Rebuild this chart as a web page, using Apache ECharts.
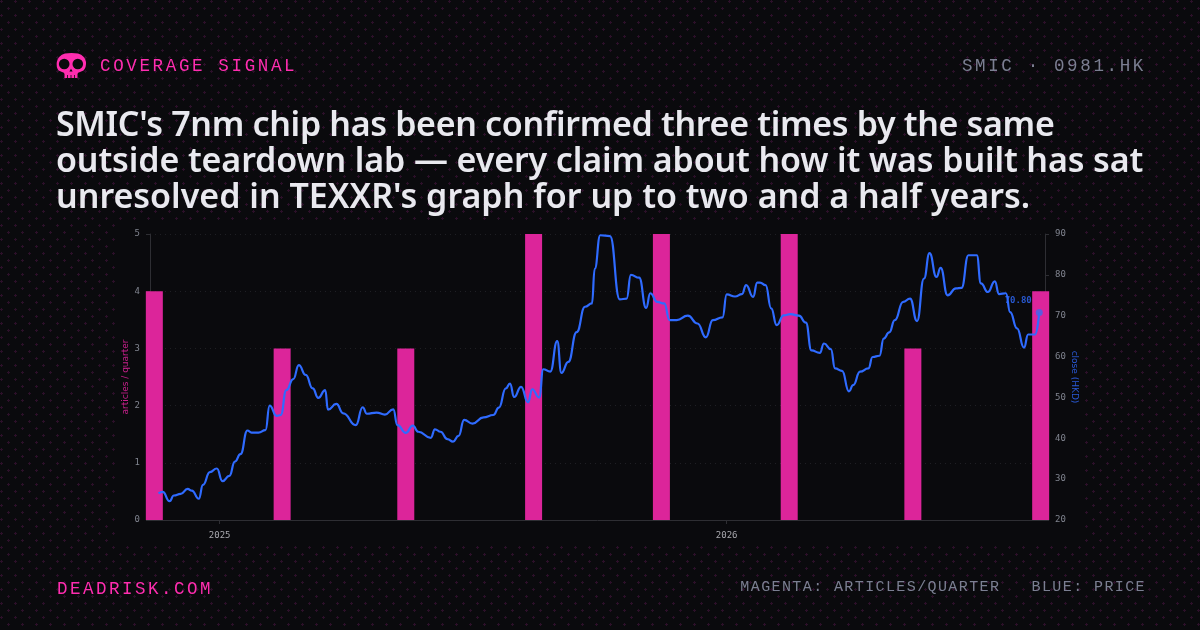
<!DOCTYPE html>
<html>
<head>
<meta charset="utf-8">
<script src="https://cdn.jsdelivr.net/npm/echarts@6/dist/echarts.min.js"></script>
<style>
html,body{margin:0;padding:0;width:1200px;height:630px;overflow:hidden;background:#0a0a0d}
#bg{position:absolute;left:0;top:0;width:1200px;height:630px;background-color:#0a0a0d;
 background-image:radial-gradient(circle at 1.5px 1.5px,#2c1029 0,#2c1029 1px,transparent 1.3px),radial-gradient(circle at 8.5px 8.5px,#2c1029 0,#2c1029 1px,transparent 1.3px);
 background-size:14px 14px}
#panel{position:absolute;left:116px;top:220px;width:968px;height:324px;background:#0a0a0d}
#chart{position:absolute;left:0;top:0;width:1200px;height:630px}
.t{position:absolute;white-space:pre;font-family:"Liberation Mono",monospace}
#title{left:56px;top:105px;font-family:"Noto Sans",sans-serif;font-weight:600;font-size:34px;line-height:36px;color:#e9e9ef}
#title span{display:block}
#skull{position:absolute;left:56px;top:52px}
</style>
</head>
<body>
<div id="bg"></div>
<div id="panel"></div>
<div id="chart"></div>
<svg id="skull" width="31" height="27" viewBox="0 0 31 27">
<path fill="#ff2db0" d="M9 1.5 Q15.5 0.5 22 1.5 Q29 3.5 30 10 Q30.5 15 27.5 18.5 L24 20 Q21.5 20.5 21.5 22 V26 H8.5 V22 Q8.5 20.5 6 20 L2.5 18.5 Q0 15 0.8 10 Q2 3.5 9 1.5 Z"/>
<circle cx="8.2" cy="12" r="5.3" fill="#0a0a0d"/>
<circle cx="21.8" cy="12" r="5.3" fill="#0a0a0d"/>
<path fill="#0a0a0d" d="M15 16.8 L13.4 19.6 H16.6 Z"/>
<path stroke="#0a0a0d" stroke-width="0.8" d="M11.5 23 V26 M15 23 V26 M18.5 23 V26"/>
</svg>
<div class="t" style="left:100px;top:57px;font-size:17.5px;line-height:18px;letter-spacing:2.65px;color:#ff2db0">COVERAGE SIGNAL</div>
<div class="t" style="right:54px;top:57px;font-size:17.5px;line-height:18px;letter-spacing:2.65px;color:#7b7f92">SMIC · 0981.HK</div>
<div class="t" id="title"><span style="letter-spacing:-0.34px">SMIC's 7nm chip has been confirmed three times by the same</span><span style="letter-spacing:-0.12px">outside teardown lab — every claim about how it was built has sat</span><span style="letter-spacing:0">unresolved in TEXXR's graph for up to two and a half years.</span></div>
<div class="t" style="left:57px;top:580px;font-size:17.5px;line-height:18px;letter-spacing:2.5px;color:#ff2db0">DEADRISK.COM</div>
<div class="t" style="right:54px;top:580px;font-size:15px;line-height:16px;letter-spacing:1.4px;color:#7b7f92">MAGENTA: ARTICLES/QUARTER   BLUE: PRICE</div>
<script>
// All day numbers count from 2025-01-01.
// ECharts pads a time axis by half a bar at each end, so these are set inside the drawn range.
const axisStartDay = -44;
const axisEndDay = 588;

const quarterDays = [-47, 45, 134, 226, 318, 410, 499, 591];
const articlesPerQuarter = [4, 3, 3, 5, 5, 5, 3, 4];

const closeDays = [-44,-41,-36,-33,-28,-23,-20,-15,-12,-7,-2,2,7,11,15,20,23,28,33,36,41,44,48,53,57,62,67,71,76,78,84,89,98,103,106,113,119,125,128,134,139,143,152,155,159,164,168,172,176,182,190,197,201,206,209,212,217,222,225,230,233,238,243,246,251,257,263,268,270,274,281,288,293,296,302,307,310,315,320,324,329,337,344,350,355,362,365,371,376,379,384,387,389,393,397,401,406,411,417,422,426,432,435,440,443,448,453,456,461,467,470,475,478,482,486,492,497,502,507,511,516,519,524,530,534,539,545,548,553,558,561,566,569,574,579,582,587,590];
const closeValues = [26.5,26.9,24.6,26.0,26.4,27.6,27.2,25.2,28.6,31.7,32.6,29.5,30.8,34.3,36.1,41.9,41.4,41.4,42.0,48.0,45.5,45.7,51.8,54.5,57.9,55.5,52.2,49.9,51.8,47.0,48.4,46.1,43.2,47.6,46.0,46.3,45.8,47.1,43.2,41.3,43.1,41.6,40.1,42.2,41.6,39.8,39.2,40.6,44.5,43.6,45.1,45.7,47.5,52.2,53.4,50.1,52.6,48.8,52.0,50.0,56.9,56.3,63.8,56.0,58.7,66.0,72.2,73.0,81.5,89.7,89.5,74.0,74.2,80.0,79.3,71.9,75.5,73.4,73.0,68.9,68.9,70.0,68.1,64.7,68.9,69.6,75.2,74.7,75.3,77.5,74.6,78.1,78.1,77.5,71.8,67.7,70.1,70.4,70.0,68.3,61.5,60.9,63.2,61.8,57.1,56.5,51.5,53.0,56.3,57.1,59.9,60.2,64.4,65.9,68.9,73.4,74.2,68.7,79.1,85.3,79.5,81.7,75.0,76.7,76.8,84.8,84.8,77.9,75.8,78.4,75.3,75.5,70.9,66.9,62.2,65.4,65.4,70.8];
const lastCloseLabel = '70.80';

const leftTitle = 'articles / quarter';
const rightTitle = 'close (HKD)';

const dayToTime = d => Date.UTC(2025, 0, 1 + d);
const pairs = (xs, ys) => xs.map((d, i) => [dayToTime(d), ys[i]]);
const lastIdx = closeDays.length - 1;

const mono = '"DejaVu Sans Mono", monospace';
const chart = echarts.init(document.getElementById('chart'), null, {renderer: 'canvas'});
chart.setOption({
  animation: false,
  backgroundColor: 'transparent',
  grid: {left: 150, right: 155, top: 234, bottom: 110, containLabel: false},
  xAxis: {
    type: 'time',
    min: dayToTime(axisStartDay),
    max: dayToTime(axisEndDay),
    minInterval: 365 * 86400000,
    axisLine: {lineStyle: {color: '#2e2e33', width: 1}},
    axisTick: {show: true, length: 4, lineStyle: {color: '#2e2e33'}},
    axisLabel: {
      color: '#a8a8ae', fontFamily: mono, fontSize: 9, margin: 11,
      formatter: v => {
        const d = new Date(v);
        return d.getUTCMonth() === 0 && d.getUTCDate() === 1 ? String(d.getUTCFullYear()) : '';
      },
      showMinLabel: false, showMaxLabel: false
    },
    splitLine: {show: false}
  },
  yAxis: [{
    type: 'value', min: 0, max: 5, interval: 1, position: 'left',
    name: leftTitle, nameLocation: 'middle', nameGap: 20, nameMoveOverlap: false,
    nameTextStyle: {color: '#c8208c', fontSize: 9, fontFamily: '"DejaVu Sans", sans-serif'},
    axisLine: {show: true, lineStyle: {color: '#2e2e33'}},
    axisTick: {show: true, length: 4, lineStyle: {color: '#2e2e33'}},
    axisLabel: {color: '#80848f', fontFamily: mono, fontSize: 9, margin: 10},
    splitLine: {show: true, lineStyle: {color: '#1f1f24', type: [1, 4], width: 1}}
  }, {
    type: 'value', min: 20, max: 90, interval: 10, position: 'right',
    name: rightTitle, nameLocation: 'middle', nameGap: 25, nameRotate: -90, nameMoveOverlap: false,
    nameTextStyle: {color: '#2a5ad8', fontSize: 9, fontFamily: '"DejaVu Sans", sans-serif'},
    axisLine: {show: true, lineStyle: {color: '#2e2e33'}},
    axisTick: {show: true, length: 4, lineStyle: {color: '#2e2e33'}},
    axisLabel: {color: '#80848f', fontFamily: mono, fontSize: 9, margin: 10},
    splitLine: {show: false}
  }],
  series: [{
    type: 'bar', yAxisIndex: 0, clip: false, barWidth: 17,
    itemStyle: {color: '#dc259a'},
    data: pairs(quarterDays, articlesPerQuarter),
    z: 2
  }, {
    type: 'line', yAxisIndex: 1, smooth: 0.5, smoothMonotone: 'x',
    showSymbol: false, symbol: 'none', clip: true,
    lineStyle: {color: '#2f6bff', width: 2.2},
    data: pairs(closeDays, closeValues),
    z: 3
  }, {
    type: 'scatter', yAxisIndex: 1, symbolSize: 7,
    itemStyle: {color: '#3f66ee'},
    data: [[dayToTime(closeDays[lastIdx]), closeValues[lastIdx]]],
    label: {
      show: true, formatter: lastCloseLabel, position: 'left', distance: 4, offset: [0, -12],
      color: '#2f6bff', fontFamily: mono, fontSize: 9, fontWeight: 'bold'
    },
    z: 4
  }]
});
</script>
</body>
</html>
